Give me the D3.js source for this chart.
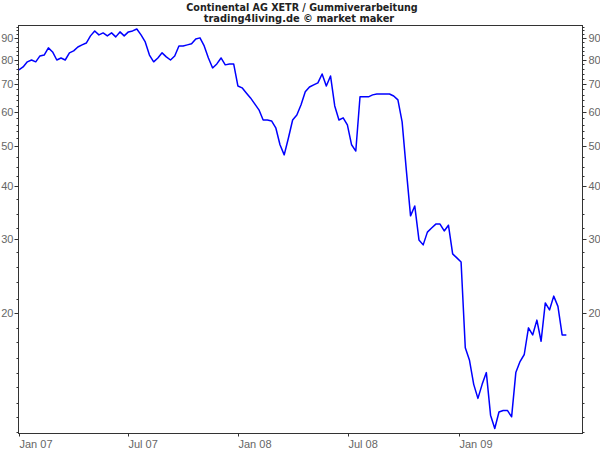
<!DOCTYPE html>
<html><head><meta charset="utf-8">
<script src="https://cdn.jsdelivr.net/npm/d3@7"></script>
<style>body{margin:0;background:#fff}svg{display:block}</style>
</head><body>
<svg id="c" width="600" height="450"></svg>
<script>
const titleLine1 = "Continental AG XETR / Gummiverarbeitung";
const titleLine2 = "trading4living.de \u00a9 market maker";
const firstWeek = "2007-01-01";
const lastWeek = "2009-06-29";
const closes = [
  75.7, 76.9, 79.1, 79.9, 79.1, 81.7, 82.1, 85.4, 83.5, 79.9,
  80.8, 79.9, 83.1, 84.0, 85.8, 86.8, 87.7, 91.2, 93.7, 91.7,
  92.7, 91.2, 92.7, 90.7, 93.2, 91.2, 93.2, 93.7, 94.7, 91.7,
  88.2, 82.1, 79.1, 80.8, 83.1, 81.3, 79.9, 81.7, 86.3, 86.3,
  86.8, 87.3, 89.7, 90.2, 86.3, 80.8, 76.5, 78.2, 80.8, 77.8,
  78.2, 78.2, 69.3, 68.6, 66.7, 64.9, 62.8, 60.8, 57.5, 57.5,
  57.2, 55.1, 50.2, 47.5, 52.1, 57.5, 59.1, 62.5, 67.1, 68.9,
  69.7, 70.5, 74.0, 69.3, 73.2, 62.1, 57.5, 58.2, 56.0, 50.2,
  48.5, 65.3, 65.3, 65.3, 66.0, 66.3, 66.3, 66.3, 66.3, 65.6,
  64.2, 56.9, 43.7, 34.0, 35.9, 29.8, 29.0, 31.1, 31.8, 32.5,
  32.5, 31.3, 32.3, 27.6, 27.0, 26.4, 16.5, 15.4, 13.5, 12.5,
  13.5, 14.4, 11.4, 10.6, 11.6, 11.7, 11.7, 11.3, 14.4, 15.3,
  15.9, 18.4, 17.7, 19.2, 17.1, 21.1, 20.3, 21.9, 20.7, 17.7,
  17.7
];
const yMajorTicks = [20, 30, 40, 50, 60, 70, 80, 90];
const yMinorTicks = [10.4, 11.3, 12.2, 13.3, 14.4, 15.6, 17, 18.4,
  21.6, 23.6, 25.7, 27.9, 31.8, 34.3, 37.2, 42.2, 44.5, 47,
  52, 54, 56, 58, 62, 64, 66, 68, 72, 74, 76, 78, 82, 84, 86, 88, 92, 94, 96];
const xTickDates = ["2007-01-01", "2007-07-01", "2008-01-01", "2008-07-01", "2009-01-01"];
const xTickLabels = ["Jan 07", "Jul 07", "Jan 08", "Jul 08", "Jan 09"];
const xDomain = ["2006-12-30T12:00", "2009-07-25"];
const yDomain = [10.34, 96.8];

const parse = s => new Date(s);
const svg = d3.select("#c");
const L = 18, R = 582, T = 25, B = 433;

const weeks = d3.timeMonday.range(parse(firstWeek + "T00:00"), d3.timeDay.offset(parse(lastWeek + "T00:00"), 1));
const data = closes.map((v, i) => ({date: weeks[i], value: v}));

const x = d3.scaleTime().domain(xDomain.map(s => parse(s.length > 10 ? s : s + "T00:00"))).range([L, R]);
const y = d3.scaleLog().domain(yDomain).range([B, T]);

const font = "'Liberation Sans', Arial, sans-serif";
const axisCol = "#333";
const labelCol = "#666";

// titles
svg.append("text").attr("x", 302).attr("y", 11).attr("text-anchor", "middle")
  .attr("font-family", "'DejaVu Sans', Verdana, sans-serif").attr("font-size", "9.6px").attr("font-weight", "bold")
  .attr("fill", "#222").text(titleLine1);
svg.append("text").attr("x", 299).attr("y", 22).attr("text-anchor", "middle")
  .attr("font-family", "'DejaVu Sans', Verdana, sans-serif").attr("font-size", "9.9px").attr("font-weight", "bold")
  .attr("fill", "#222").text(titleLine2);

// frame
svg.append("rect").attr("x", L + 0.5).attr("y", T + 0.5).attr("width", R - L).attr("height", B - T)
  .attr("fill", "none").attr("stroke", axisCol).attr("stroke-width", 1);

// left axis
const leftAxis = svg.append("g").attr("transform", `translate(${L + 0.5},0.5)`);
leftAxis.selectAll(".mn").data(yMinorTicks).join("line")
  .attr("x1", -2).attr("x2", 0).attr("y1", d => Math.round(y(d))).attr("y2", d => Math.round(y(d)))
  .attr("stroke", axisCol);
leftAxis.selectAll(".mj").data(yMajorTicks).join("line")
  .attr("x1", -4).attr("x2", 0).attr("y1", d => Math.round(y(d))).attr("y2", d => Math.round(y(d)))
  .attr("stroke", axisCol);
leftAxis.selectAll("text").data(yMajorTicks).join("text")
  .attr("x", -5).attr("y", d => Math.round(y(d))).attr("dy", "0.35em").attr("text-anchor", "end")
  .attr("font-family", font).attr("font-size", "11px").attr("fill", labelCol).text(d => d);

// right axis
const rightAxis = svg.append("g").attr("transform", `translate(${R + 0.5},0.5)`);
rightAxis.selectAll(".mn").data(yMinorTicks).join("line")
  .attr("x1", 0).attr("x2", 2).attr("y1", d => Math.round(y(d))).attr("y2", d => Math.round(y(d)))
  .attr("stroke", axisCol);
rightAxis.selectAll(".mj").data(yMajorTicks).join("line")
  .attr("x1", 0).attr("x2", 4).attr("y1", d => Math.round(y(d))).attr("y2", d => Math.round(y(d)))
  .attr("stroke", axisCol);
rightAxis.selectAll("text").data(yMajorTicks).join("text")
  .attr("x", 6).attr("y", d => Math.round(y(d))).attr("dy", "0.35em").attr("text-anchor", "start")
  .attr("font-family", font).attr("font-size", "11px").attr("fill", labelCol).text(d => d);

// bottom axis
const xt = xTickDates.map((d, i) => ({date: parse(d + "T00:00"), label: xTickLabels[i]}));
const bottom = svg.append("g").attr("transform", `translate(0.5,${B + 0.5})`);
bottom.selectAll("line").data(xt).join("line")
  .attr("x1", d => Math.round(x(d.date))).attr("x2", d => Math.round(x(d.date)))
  .attr("y1", 0).attr("y2", 3).attr("stroke", axisCol);
bottom.selectAll("text").data(xt).join("text")
  .attr("x", d => Math.round(x(d.date))).attr("y", 14).attr("text-anchor", "start")
  .attr("font-family", font).attr("font-size", "11px").attr("fill", labelCol).text(d => d.label);

// line
svg.append("path").datum(data)
  .attr("d", d3.line().x(d => x(d.date)).y(d => y(d.value)))
  .attr("fill", "none").attr("stroke", "#0000ff").attr("stroke-width", 1.5).attr("stroke-linejoin", "round");
</script>
</body></html>
